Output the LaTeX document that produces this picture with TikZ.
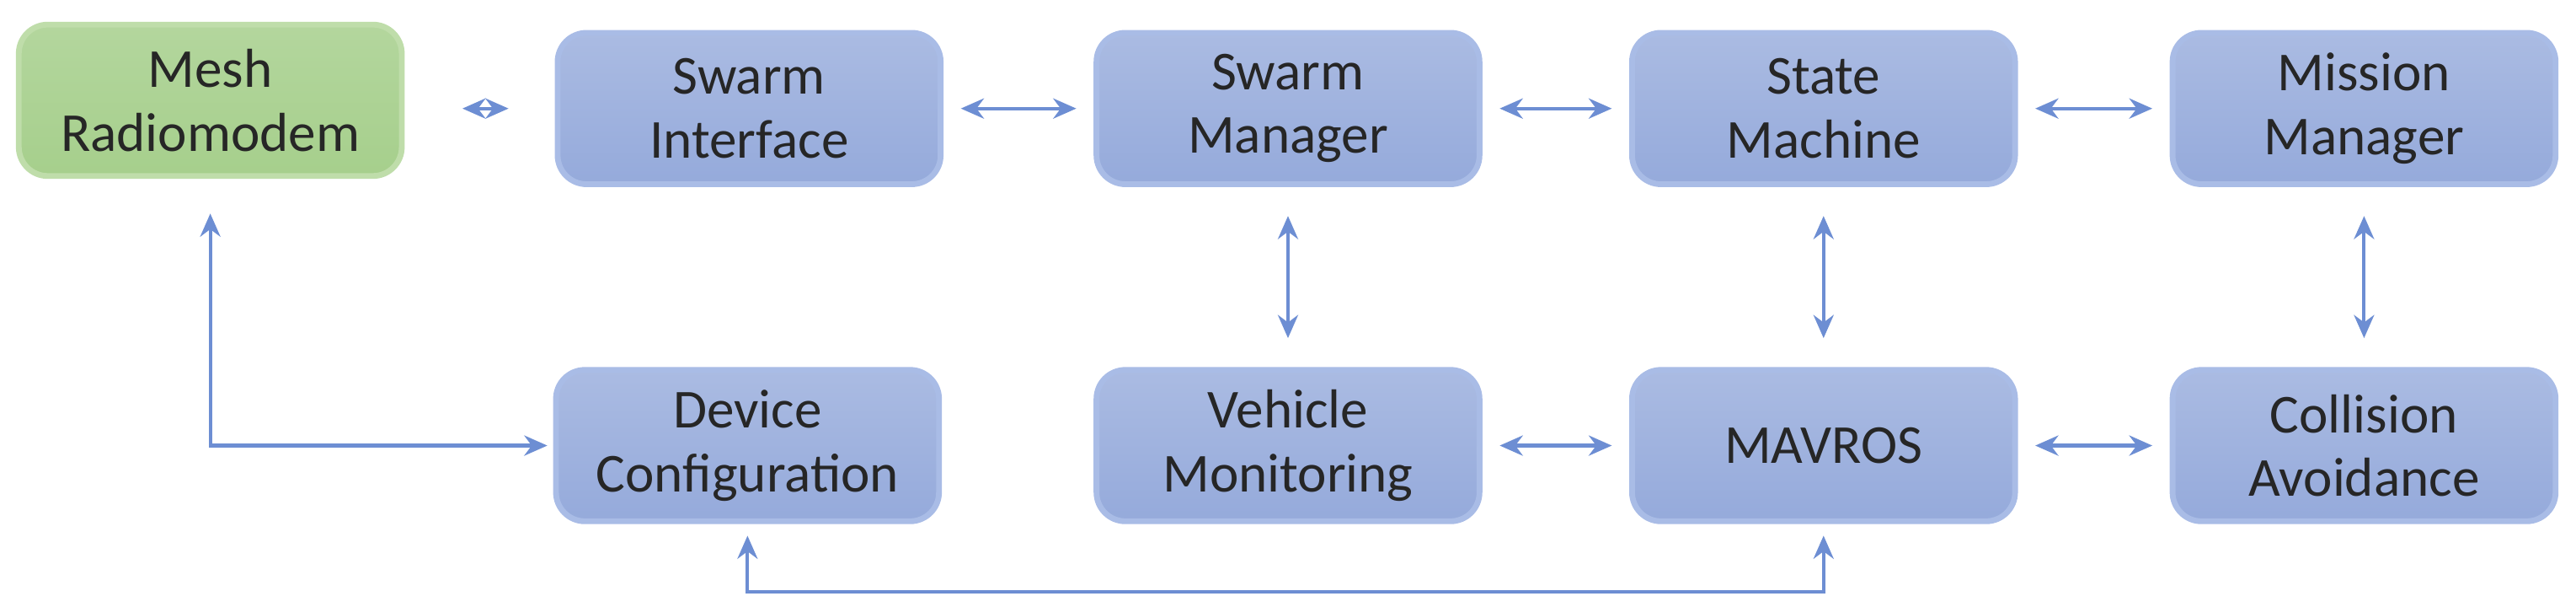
\documentclass[tikz,border=0pt]{standalone}
\usepackage{fontspec}
\setmainfont{Carlito}
\usetikzlibrary{arrows.meta}
\definecolor{bfill}{HTML}{95AADB}
\definecolor{bdraw}{HTML}{A9BCE6}
\definecolor{gfill}{HTML}{A6CF8C}
\definecolor{gdraw}{HTML}{BFDDAA}
\definecolor{ln}{HTML}{6D8ED3}
\begin{document}
\begin{tikzpicture}[x=0.01cm,y=-0.01cm,
  box/.style={draw=bdraw,line width=1pt,top color=bfill!80,bottom color=bfill,rounded corners=5pt,minimum width=2.33cm,minimum height=0.92cm,align=center,font=\fontsize{9.5}{11}\selectfont,text=black!85},
  gbox/.style={box,draw=gdraw,top color=gfill!85,bottom color=gfill},
  con/.style={draw=ln,line width=0.6pt,{Stealth[length=4pt,width=3.5pt]}-{Stealth[length=4pt,width=3.5pt]}}]
\useasboundingbox (0,0) rectangle (1568,369);
\node[gbox] (mesh) at (128,61) {Mesh\\Radiomodem};
\node[box] (si) at (456,66) {Swarm\\Interface};
\node[box] (sm) at (784,66) {Swarm\\Manager};
\node[box] (st) at (1110,66) {State\\Machine};
\node[box] (mm) at (1439,66) {Mission\\Manager};
\node[box] (dc) at (455,271) {Device\\Configuration};
\node[box] (vm) at (784,271) {Vehicle\\Monitoring};
\node[box] (mav) at (1110,271) {MAVROS};
\node[box] (ca) at (1439,271) {Collision\\Avoidance};
\draw[con] ([xshift=10pt]mesh.east|-si.west) -- ([xshift=-8pt]si.west);
\draw[con] ([xshift=3pt]si.east) -- ([xshift=-3pt]sm.west);
\draw[con] ([xshift=3pt]sm.east) -- ([xshift=-3pt]st.west);
\draw[con] ([xshift=3pt]st.east) -- ([xshift=-3pt]mm.west);
\draw[con] ([yshift=-5pt]sm.south) -- ([yshift=5pt]vm.north);
\draw[con] ([yshift=-5pt]st.south) -- ([yshift=5pt]mav.north);
\draw[con] ([yshift=-5pt]mm.south) -- ([yshift=5pt]ca.north);
\draw[con] ([xshift=3pt]vm.east) -- ([xshift=-3pt]mav.west);
\draw[con] ([xshift=3pt]mav.east) -- ([xshift=-3pt]ca.west);
\draw[con] ([yshift=-6pt]mesh.south) |- ([xshift=-1pt]dc.west);
\draw[con] ([yshift=-2pt]dc.south) -- ++(0,34) -| ([yshift=-2pt]mav.south);
\end{tikzpicture}
\end{document}
